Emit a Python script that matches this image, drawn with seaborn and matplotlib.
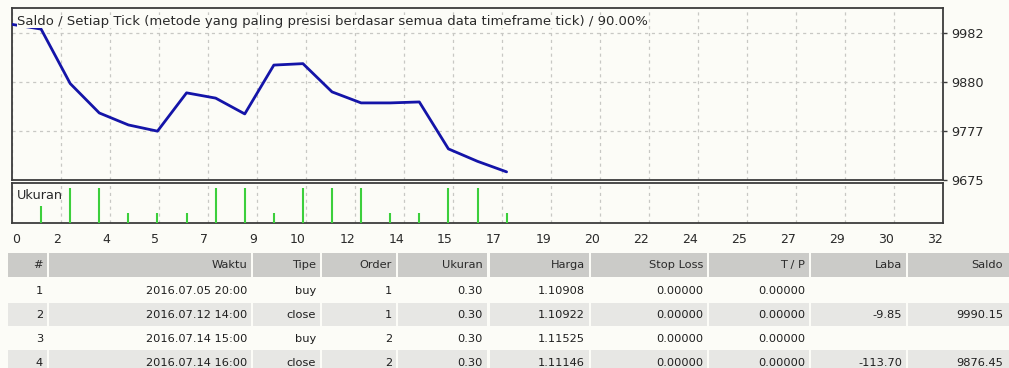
import numpy as np
import matplotlib
matplotlib.use("Agg")
import matplotlib.pyplot as plt
import seaborn as sns
from matplotlib.patches import Rectangle

# Balance after each closed trade (trade 0 = initial deposit)
trade_no = list(range(18))
saldo = [10000.00, 9990.15, 9876.45, 9815, 9790, 9777, 9857, 9846, 9813,
         9915, 9918, 9859, 9836, 9836, 9838, 9740, 9714, 9692]

# Lot markers drawn in the "Ukuran" panel
ukuran_trade = list(range(1, 18))
ukuran = [0.15, 0.30, 0.30, 0.09, 0.09, 0.09, 0.30, 0.30, 0.09,
          0.30, 0.30, 0.30, 0.09, 0.09, 0.30, 0.30, 0.09]

x_max = 32
x_tick_labels = ["0", "2", "4", "5", "7", "9", "10", "12", "14", "15", "17",
                 "19", "20", "22", "24", "25", "27", "29", "30", "32"]
y_tick_values = [9675.0, 9777.33, 9879.67, 9982.0]
y_tick_labels = ["9675", "9777", "9880", "9982"]
y_top = 10034.2

chart_title = ("Saldo / Setiap Tick (metode yang paling presisi berdasar "
               "semua data timeframe tick) / 90.00%")
panel_label = "Ukuran"

# Trade log
col_header = ["#", "Waktu", "Tipe", "Order", "Ukuran", "Harga",
              "Stop Loss", "T / P", "Laba", "Saldo"]
row_no = ["1", "2", "3", "4"]
waktu = ["2016.07.05 20:00", "2016.07.12 14:00", "2016.07.14 15:00", "2016.07.14 16:00"]
tipe = ["buy", "close", "buy", "close"]
order = ["1", "1", "2", "2"]
lot = ["0.30", "0.30", "0.30", "0.30"]
harga = ["1.10908", "1.10922", "1.11525", "1.11146"]
stop_loss = ["0.00000", "0.00000", "0.00000", "0.00000"]
take_profit = ["0.00000", "0.00000", "0.00000", "0.00000"]
laba = ["", "-9.85", "", "-113.70"]
saldo_log = ["", "9990.15", "", "9876.45"]

# ---------------------------------------------------------------- style
sns.set_style("white")
plt.rcParams["font.family"] = ["DejaVu Sans"]
BG = "#FCFCF7"
FRAME = "#3C3C3C"
GRID = "#C8C8C4"
LINE = "#1414A8"
BAR = "#3CCF3C"
TXT = "#2A2A2A"

W, H = 1009, 368
fig = plt.figure(figsize=(W / 100, H / 100), dpi=100, facecolor=BG)


def box(x0, y0, x1, y1):
    """Figure-fraction rect from pixel edges (origin top-left)."""
    return [x0 / W, 1 - y1 / H, (x1 - x0) / W, (y1 - y0) / H]


# pixel canvas for the trade log
canvas = fig.add_axes([0, 0, 1, 1], zorder=-1)
canvas.set_xlim(0, W)
canvas.set_ylim(H, 0)
canvas.axis("off")

ax = fig.add_axes(box(12, 8, 943, 180))
axv = fig.add_axes(box(12, 183, 943, 223))

x_ticks = np.linspace(0, x_max, len(x_tick_labels))

# ---------------------------------------------------------------- balance
ax.set_facecolor(BG)
sns.lineplot(x=trade_no, y=saldo, ax=ax, color=LINE, linewidth=2.0,
             zorder=3, legend=False)
ax.set_xlim(0, x_max)
ax.set_ylim(y_tick_values[0], y_top)
ax.set_xticks(x_ticks)
ax.set_xticklabels([])
ax.tick_params(axis="x", length=0)
ax.yaxis.tick_right()
ax.set_yticks(y_tick_values)
ax.set_yticklabels(y_tick_labels)
ax.tick_params(axis="y", direction="out", length=3, width=1, color=FRAME,
               pad=3, labelsize=9.3, labelcolor=TXT)
ax.set_xlabel("")
ax.set_ylabel("")
ax.grid(True, linestyle=(0, (2.5, 3)), color=GRID, linewidth=0.9)
for s in ax.spines.values():
    s.set_color(FRAME)
    s.set_linewidth(1.3)
    s.set_visible(True)

fig.text(17 / W, 1 - 25 / H, chart_title, ha="left", va="baseline",
         fontsize=9.5, color=TXT, zorder=10,
         bbox=dict(boxstyle="square,pad=0.0", facecolor=BG, edgecolor="none"))

# ---------------------------------------------------------------- lots
axv.set_facecolor(BG)
axv.vlines(ukuran_trade, 0, ukuran, color=BAR, linewidth=1.5, zorder=3)
axv.set_xlim(0, x_max)
axv.set_ylim(0, 0.343)
axv.set_yticks([])
axv.set_xticks(x_ticks)
axv.set_xticklabels(x_tick_labels)
axv.tick_params(axis="x", direction="out", length=3, width=1, color=FRAME,
                pad=4, labelsize=9.0, labelcolor=TXT)
for i, lab in enumerate(axv.get_xticklabels()):
    lab.set_horizontalalignment("left" if i == 0 else "right")
axv.grid(True, axis="x", linestyle=(0, (2.5, 3)), color=GRID, linewidth=0.9)
for s in axv.spines.values():
    s.set_color(FRAME)
    s.set_linewidth(1.3)
    s.set_visible(True)
axv.text(5 / 931, 0.68, panel_label, transform=axv.transAxes, ha="left",
         va="center", fontsize=9.3, color=TXT)

# ---------------------------------------------------------------- trade log
col_left = [8, 49, 253, 322, 398, 490, 591, 709, 811, 908]
col_right = [47, 251, 320, 396, 487, 589, 707, 809, 906, 1009]
header_top, header_bot = 253, 277
row_centers = [291, 314.5, 338.5, 362.5]
row_bands = [None, (303, 326), None, (350, 373)]

for l, r, name in zip(col_left, col_right, col_header):
    canvas.add_patch(Rectangle((l, header_top), r - l, header_bot - header_top,
                               facecolor="#CBCBC8", edgecolor="none"))
    canvas.text(min(r, 1007) - 4, (header_top + header_bot) / 2, name,
                ha="right", va="center", fontsize=8.2, color=TXT)

columns = [row_no, waktu, tipe, order, lot, harga, stop_loss, take_profit,
           laba, saldo_log]
for i, yc in enumerate(row_centers):
    band = row_bands[i]
    for c, (l, r) in enumerate(zip(col_left, col_right)):
        if band is not None:
            canvas.add_patch(Rectangle((l, band[0]), r - l, band[1] - band[0],
                                       facecolor="#E7E7E4", edgecolor="none"))
        canvas.text(min(r, 1007) - 4, yc, columns[c][i], ha="right",
                    va="center", fontsize=8.2, color="#1E1E1E")

fig.savefig("out.png", dpi=100, facecolor=BG)
